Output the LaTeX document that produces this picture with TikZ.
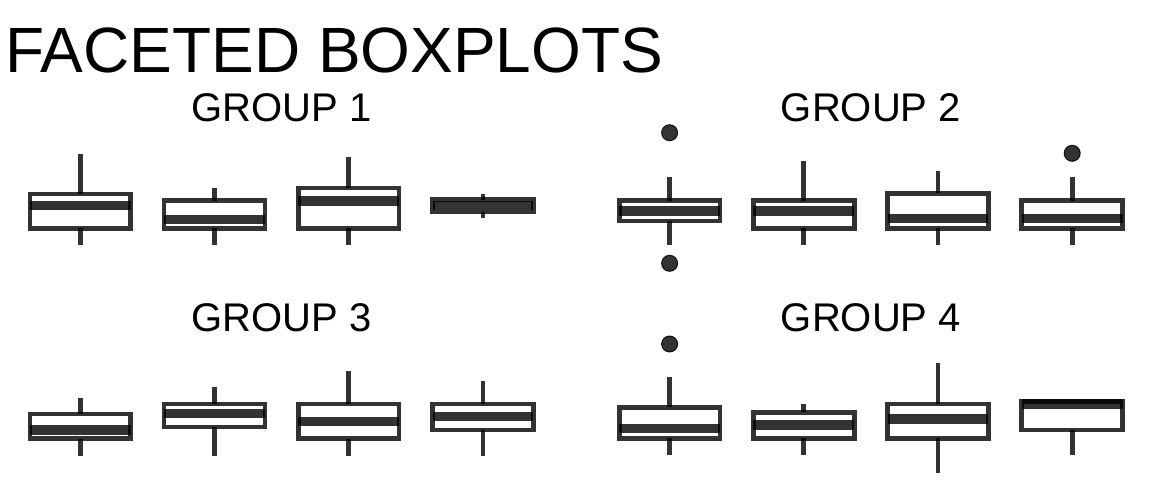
\documentclass[tikz,border=0pt]{standalone}
\usepackage{fontspec}
\setmainfont{Liberation Sans}
\begin{document}
\begin{tikzpicture}[x=1pt,y=-1pt,
  bxline/.style={draw=black,draw opacity=0.8,line width=4.7pt},
  medline/.style={draw=black,draw opacity=0.8,line width=9.4pt},
  whisk/.style={draw=black,draw opacity=0.8,line width=4.7pt},
  outlier/.style={fill=black,fill opacity=0.8,draw=black,draw opacity=0.85,line width=1pt},
  titletext/.style={inner sep=0pt,font=\fontsize{64}{64}\selectfont},
  grouptext/.style={inner sep=0pt,font=\fontsize{40}{40}\selectfont}]
\fill[white] (0,0) rectangle (1152,480);
\useasboundingbox (0,0) rectangle (1152,480);
% #1 center x, #2 box top, #3 box bottom, #4 median, #5 whisker top, #6 whisker bottom
\newcommand{\mybp}[6]{%
  \draw[whisk] (#1,#2) -- (#1,#5);
  \draw[whisk] (#1,#3) -- (#1,#6);
  \draw[bxline] (#1-50.4,#2) rectangle (#1+50.4,#3);
  \draw[medline] (#1-50.4,#4) -- (#1+50.4,#4);
}
\node[titletext,anchor=base west] (title) at (5,72) {FACETED BOXPLOTS};
\node[grouptext,anchor=base] (g1) at (281.7,121) {GROUP 1};
\node[grouptext,anchor=base] (g2) at (871,121) {GROUP 2};
\node[grouptext,anchor=base] (g3) at (281.7,331) {GROUP 3};
\node[grouptext,anchor=base] (g4) at (871,331) {GROUP 4};
% group 1
\mybp{80.3}{194}{228.3}{205.3}{154}{245}
\mybp{214.5}{200.7}{228.3}{219.6}{188.3}{245}
\mybp{348.7}{188}{228.3}{201}{156.7}{245}
\mybp{482.9}{199.7}{212}{205.5}{194}{217.7}
% group 2
\mybp{669.6}{200.7}{221}{211}{176.7}{245}
\mybp{803.8}{200.7}{228.3}{210.8}{161}{245}
\mybp{938}{193.4}{228.3}{218.3}{171}{245}
\mybp{1072.2}{200.7}{228.3}{218.3}{176.7}{245}
\draw[outlier] (669.6,132.7) circle (8pt);
\draw[outlier] (669.6,263.3) circle (8pt);
\draw[outlier] (1072.2,153.3) circle (8pt);
% group 3
\mybp{80.3}{414}{438.7}{430}{398.3}{456}
\mybp{214.5}{404}{427}{413.2}{386.7}{456}
\mybp{348.7}{404}{438.7}{421.3}{371}{456}
\mybp{482.9}{404}{430}{416.3}{381}{456}
% group 4
\mybp{669.6}{407.4}{438.4}{428.3}{376.7}{455}
\mybp{803.8}{412.4}{438.4}{425}{404}{455}
\mybp{938}{404}{438.4}{419}{363.3}{473.3}
\mybp{1072.2}{401.7}{430}{404}{401.7}{455}
\draw[outlier] (669.6,344) circle (8pt);
\end{tikzpicture}
\end{document}
